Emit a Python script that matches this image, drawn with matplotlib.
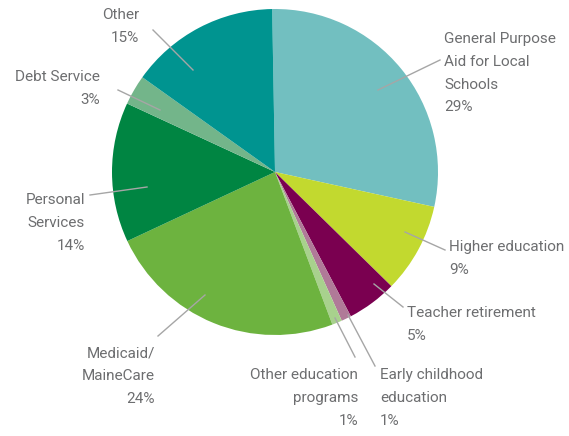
import matplotlib
matplotlib.use("Agg")
import matplotlib.pyplot as plt

labels = ["General Purpose\nAid for Local\nSchools", "Higher education", "Teacher retirement",
          "Early childhood\neducation", "Other education\nprograms", "Medicaid/\nMaineCare",
          "Personal\nServices", "Debt Service", "Other"]
values = [29, 9, 5, 1, 1, 24, 14, 3, 15]
colors = ["#72bfc0", "#c2d92f", "#7a0050", "#b07a98", "#a8d18d", "#6db33f",
          "#008542", "#73b58a", "#009490"]

# label placement in pixels: (text x, text y, ha, line start, line end)
W, H = 569, 436
cx, cy, r = 275, 172, 163
place = [
    (444, 32, "left", (378, 90), (440, 60)),
    (449, 240, "left", (405, 232), (445, 250)),
    (407, 306, "left", (374, 284), (403, 307)),
    (380, 368, "left", (348, 315), (375, 366)),
    (358, 368, "right", (335, 318), (355, 357)),
    (155, 346, "right", (205, 295), (158, 336)),
    (85, 193, "right", (147, 187), (90, 195)),
    (100, 70, "right", (160, 110), (118, 90)),
    (139, 8, "right", (193, 70), (153, 30)),
]

plt.rcParams['font.family'] = ['Roboto', 'DejaVu Sans']

fig = plt.figure(figsize=(W / 100, H / 100), dpi=100)
ax = fig.add_axes([(cx - r) / W, (H - cy - r) / H, 2 * r / W, 2 * r / H])
ax.pie(values, colors=colors, startangle=91, counterclock=False, radius=1,
       wedgeprops=dict(linewidth=0))
ax.set_xlim(-1, 1)
ax.set_ylim(-1, 1)
ax.axis("off")


def to_data(px, py):
    return (px - cx) / r, (cy - py) / r


for lab, v, (tx, ty, ha, p0, p1) in zip(labels, values, place):
    x0, y0 = to_data(*p0)
    x1, y1 = to_data(*p1)
    ax.plot([x0, x1], [y0, y1], color="#a6a6a6", lw=1, clip_on=False)
    x, y = to_data(tx, ty)
    ax.text(x, y, f"{lab}\n{v}%", ha=ha, va="top", fontsize=11, color="#6d6e70",
            linespacing=1.8, multialignment=ha, clip_on=False)

fig.savefig("out.png", dpi=100)
